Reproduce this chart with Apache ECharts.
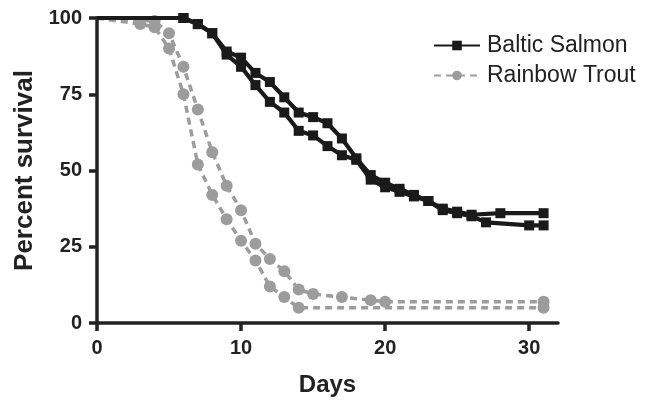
<!DOCTYPE html>
<html>
<head>
<meta charset="utf-8">
<script src="https://cdn.jsdelivr.net/npm/echarts@6/dist/echarts.min.js"></script>
<style>html,body{margin:0;padding:0;background:#fff}#c{width:658px;height:400px}</style>
</head>
<body>
<div id="c"></div>
<script>
// Data (days, percent survival)
const salmon1Days   = [0, 6, 7, 8, 9, 10, 11, 12, 13, 14, 15, 16, 17, 18, 19, 20, 21, 22, 23, 24, 25, 26, 28, 31];
const salmon1Values = [100, 100, 98, 95, 89, 87, 82, 79, 74, 69, 67.5, 65.5, 60.5, 54, 48.5, 46, 44, 42, 40, 37.5, 36.5, 35.5, 36, 36];
const salmon2Days   = [0, 6, 7, 8, 9, 10, 11, 12, 13, 14, 15, 16, 17, 18, 19, 20, 21, 22, 23, 24, 25, 26, 27, 30, 31];
const salmon2Values = [100, 100, 98, 95, 88, 84, 78, 72.5, 69, 63, 61.5, 58, 55, 53.5, 47, 44.5, 43, 41.5, 40, 37, 36, 35, 33, 32, 32];
const trout1Days    = [0, 3, 4, 5, 6, 7, 8, 9, 10, 11, 12, 13, 14, 31];
const trout1Values  = [100, 98, 97, 90, 75, 52, 42, 34, 27, 20.5, 12, 8.5, 5, 5];
const trout2Days    = [0, 4, 5, 6, 7, 8, 9, 10, 11, 12, 13, 14, 15, 17, 19, 20, 31];
const trout2Values  = [100, 99, 95, 84, 70, 56, 45, 37, 26, 21, 17, 11, 9.5, 8.5, 7.5, 7, 7];
const xTicks = [0, 10, 20, 30];
const yTicks = [0, 25, 50, 75, 100];

const pairs = (d, v) => d.map((x, i) => [x, v[i]]);
const font = '"Liberation Sans", Arial, sans-serif';
const sizeSkipFirst = s => (val, p) => (p && p.dataIndex === 0 ? 0 : s);

const salmonStyle = {
  type: 'line', name: 'Baltic Salmon', symbol: 'rect', symbolSize: sizeSkipFirst(10),
  lineStyle: {color: '#1a1a1a', width: 4.2},
  itemStyle: {color: '#1a1a1a'}, z: 3, animation: false
};
const troutStyle = {
  type: 'line', name: 'Rainbow Trout', symbol: 'circle', symbolSize: sizeSkipFirst(12),
  lineStyle: {color: '#9c9c9c', width: 3.5, type: [7, 5]},
  itemStyle: {color: '#9c9c9c'}, z: 2, animation: false
};

const chart = echarts.init(document.getElementById('c'));
chart.setOption({
  backgroundColor: '#fff',
  animation: false,
  grid: {left: 97, top: 18, width: 461, height: 305, containLabel: false, outerBoundsMode: 'none'},
  legend: {
    orient: 'vertical', left: 428, top: 29, itemWidth: 46, itemHeight: 12, itemGap: 7,
    textStyle: {fontFamily: font, fontSize: 23, color: '#222', padding: [0, 0, 0, 2]},
    data: [
      {name: 'Baltic Salmon', itemStyle: {color: '#1a1a1a'}},
      {name: 'Rainbow Trout', itemStyle: {color: '#9c9c9c'}}
    ]
  },
  xAxis: {
    type: 'value', min: 0, max: 32,
    name: 'Days', nameLocation: 'middle', nameGap: 50,
    nameTextStyle: {fontFamily: font, fontSize: 24, fontWeight: 'bold', color: '#222'},
    axisLine: {show: true, onZero: false, lineStyle: {color: '#222', width: 3.5}},
    axisTick: {show: true, length: 8, lineStyle: {color: '#222', width: 3.5}, customValues: xTicks},
    axisLabel: {fontFamily: font, fontSize: 20, fontWeight: 'bold', color: '#222', margin: 15, customValues: xTicks},
    splitLine: {show: false}
  },
  yAxis: {
    type: 'value', min: 0, max: 100,
    name: 'Percent survival', nameLocation: 'middle', nameGap: 55, nameRotate: 90,
    nameTextStyle: {fontFamily: font, fontSize: 26, fontWeight: 'bold', color: '#222'},
    axisLine: {show: true, onZero: false, lineStyle: {color: '#222', width: 3.5}},
    axisTick: {show: true, length: 8, lineStyle: {color: '#222', width: 3.5}, customValues: yTicks},
    axisLabel: {fontFamily: font, fontSize: 20, fontWeight: 'bold', color: '#222', margin: 15, customValues: yTicks},
    splitLine: {show: false}
  },
  series: [
    Object.assign({}, troutStyle, {data: pairs(trout1Days, trout1Values)}),
    Object.assign({}, troutStyle, {data: pairs(trout2Days, trout2Values)}),
    Object.assign({}, salmonStyle, {data: pairs(salmon1Days, salmon1Values)}),
    Object.assign({}, salmonStyle, {data: pairs(salmon2Days, salmon2Values)})
  ]
});
</script>
</body>
</html>
